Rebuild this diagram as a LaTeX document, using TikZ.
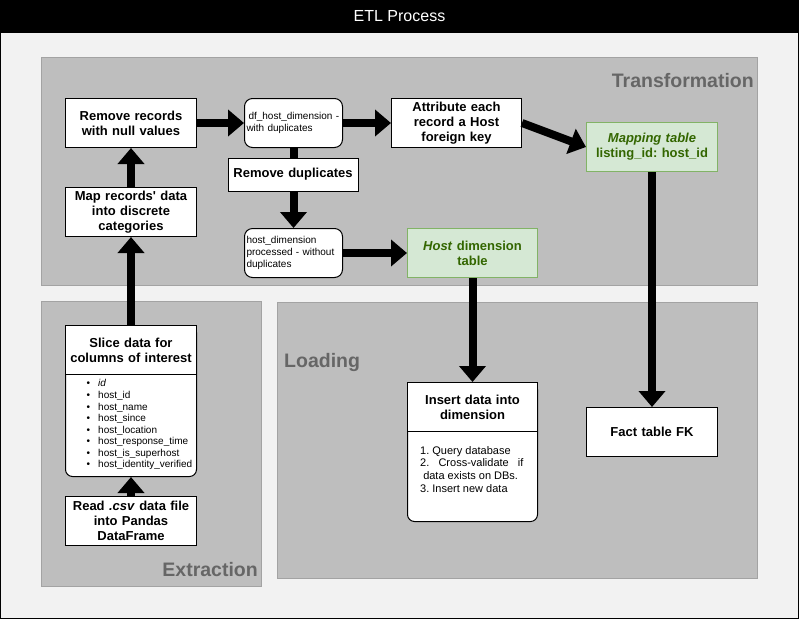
\documentclass[tikz,border=0pt]{standalone}
\usepackage{fontspec}
\setmainfont{Liberation Sans}[Ligatures=TeXOff]
\usetikzlibrary{arrows.meta}
\frenchspacing

\definecolor{pagebg}{HTML}{F2F2F2}
\definecolor{lanefill}{HTML}{BEBEBE}
\definecolor{laneline}{HTML}{A3A3A3}
\definecolor{lanetext}{HTML}{666666}
\definecolor{greenfill}{HTML}{D5E8D4}
\definecolor{greenline}{HTML}{82B366}
\definecolor{greentext}{HTML}{336600}

\begin{document}
\begin{tikzpicture}[x=1pt,y=-1pt,
  lane/.style={draw=laneline, fill=lanefill, line width=1pt, anchor=north west, inner sep=0pt},
  lanelabel/.style={text=lanetext, inner sep=0pt, font=\bfseries\fontsize{19.5}{22}\selectfont},
  stepbox/.style={draw=black, fill=white, line width=1pt, anchor=north west, inner sep=2pt,
    align=center, minimum height=49pt, font=\bfseries\fontsize{13}{15}\selectfont},
  databox/.style={draw=black, fill=white, line width=1pt, anchor=north west, inner sep=2pt,
    rounded corners=8pt, align=left, minimum height=49pt, font=\fontsize{10}{11.6}\selectfont},
  tablebox/.style={stepbox, draw=greenline, fill=greenfill, text=greentext},
  listbody/.style={draw=black, fill=white, line width=1pt, anchor=north west, inner sep=0pt,
    rounded corners=7pt},
  flow/.style={line width=8pt, -{Triangle[length=16pt,width=26pt]}},
  bul/.style={anchor=north west, inner sep=0pt, align=left}
]
\useasboundingbox (0,0) rectangle (799,619);

% frame and title bar
\draw[fill=pagebg, draw=black, line width=1pt] (0.5,0.5) rectangle (798.5,618.5);
\fill[black] (0,0) rectangle (799,33);
\node[text=white, font=\fontsize{16}{19}\selectfont, inner sep=0pt] (title) at (399.5,16.5) {ETL Process};

% stage lanes
\node[lane, minimum width=716pt, minimum height=228pt] (transformation) at (41,57) {};
\node[lane, minimum width=220pt, minimum height=285pt] (extraction) at (41,301) {};
\node[lane, minimum width=480pt, minimum height=276pt] (loading) at (277,302) {};
\node[lanelabel, anchor=base east] (transformationlabel) at (754,87) {Transformation};
\node[lanelabel, anchor=base east] (extractionlabel) at (258,576) {Extraction};
\node[lanelabel, anchor=base west] (loadinglabel) at (284,367) {Loading};

% transformation steps
\node[stepbox, text width=127pt] (null) at (65,98) {Remove records\\with null values};
\node[stepbox, text width=127pt] (mapcat) at (65,187) {Map records' data\\into discrete\\categories};
\node[databox, text width=94pt] (dfdup) at (244,98) {\hspace{2pt}df\_host\_dimension -\\with duplicates};
\node[stepbox, text width=126pt] (attr) at (391,98) {Attribute each\\record a Host\\foreign key};
\node[tablebox, text width=127pt] (maptab) at (586,122) {\textit{Mapping table}\\listing\_id: host\_id};
\node[databox, text width=94pt] (hostproc) at (244,228) {host\_dimension\\processed - without\\duplicates};
\node[tablebox, text width=126pt] (hosttab) at (407,228) {\textit{Host} dimension\\table};

% extraction steps
\node[listbody, minimum width=131pt, minimum height=151pt] (slice) at (65,325) {};
\node[stepbox, text width=127pt] (slicehead) at (65,325) {Slice data for\\columns of interest};
\node[bul, font=\fontsize{10}{11.57}\selectfont] (slicelist) at (86.5,379.5) {%
  \makebox[11.5pt][l]{\textbullet}\textit{id}\\
  \makebox[11.5pt][l]{\textbullet}host\_id\\
  \makebox[11.5pt][l]{\textbullet}host\_name\\
  \makebox[11.5pt][l]{\textbullet}host\_since\\
  \makebox[11.5pt][l]{\textbullet}host\_location\\
  \makebox[11.5pt][l]{\textbullet}host\_response\_time\\
  \makebox[11.5pt][l]{\textbullet}host\_is\_superhost\\
  \makebox[11.5pt][l]{\textbullet}host\_identity\_verified};
\node[stepbox, text width=127pt] (read) at (65,496) {Read \textit{.csv} data file\\into Pandas\\DataFrame};

% loading steps
\node[listbody, minimum width=130pt, minimum height=139pt] (insert) at (407,382) {};
\node[stepbox, text width=126pt] (inserthead) at (407,382) {Insert data into\\dimension};
\node[bul, font=\fontsize{11}{12.8}\selectfont] (insertlist) at (420,446) {%
  1. Query database\\
  2.\ \ \ Cross-validate\ \ \ if\\
  \ data exists on DBs.\\
  3. Insert new data};
\node[stepbox, text width=127pt] (fact) at (586,407) {Fact table FK};

% data flow
\draw[flow] (read.north) -- (slice.south);
\draw[flow] (slicehead.north) -- (mapcat.south);
\draw[flow] (mapcat.north) -- (null.south);
\draw[flow] (null.east) -- (dfdup.west);
\draw[flow] (dfdup.east) -- (attr.west);
\draw[flow] (dfdup.south) -- (hostproc.north);
\draw[flow] (hostproc.east) -- (hosttab.west);
\draw[flow] (attr.east) -- (maptab.west);
\draw[flow] (hosttab.south) -- (inserthead.north);
\draw[flow] (maptab.south) -- (fact.north);

% label on the de-duplication edge
\node[stepbox, anchor=center, minimum height=33pt, text width=126pt] (dedup) at (293,174.5) {Remove duplicates};
\end{tikzpicture}
\end{document}
